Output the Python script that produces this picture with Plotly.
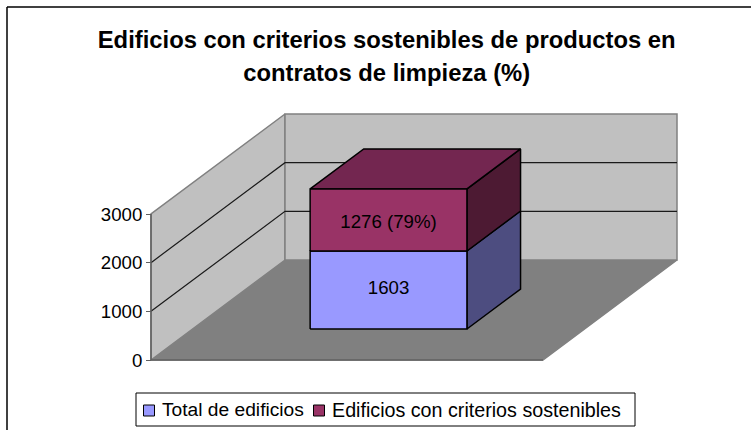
import plotly.graph_objects as go

W, H = 751, 430
FONT = "Liberation Sans"

# Data
title_lines = ["Edificios con criterios sostenibles de productos en", "contratos de limpieza (%)"]
series_names = ["Total de edificios", "Edificios con criterios sostenibles"]
series_values = [1603, 1276]
data_labels = ["1603", "1276 (79%)"]
tick_values = [0, 1000, 2000, 3000]
tick_labels = ["0", "1000", "2000", "3000"]
value_max = 3000

# Colours
front_colors = ["#9999FF", "#993366"]
side_colors = ["#4D4D80", "#4D1A33"]
top_colors = ["#737399", "#732650"]
WALL, FLOOR, EDGE = "#C0C0C0", "#808080", "#808080"

# Oblique projection set-up (pixels of the plot box)
X0_PX, Y0_PX = 151, 360      # front-left corner of the floor
FLOOR_W_PX = 392             # floor width
DX_PX, DY_PX = 134, 100      # shift of the full depth
K = 146 / value_max          # pixels per value unit
BAR_L, BAR_R = 0.30, 0.70    # bar extent across the category
BAR_F, BAR_B = 0.31, 0.71    # bar extent in depth
LABEL_SHIFT_PX = [1, -3]


def proj(u, v, d):
    """Category position u, value v, depth d -> axis coordinates."""
    return u + d * DX_PX / FLOOR_W_PX, v + d * DY_PX / K


def poly(points, fill, line, width=1.0, name=None):
    xs, ys = zip(*[proj(*p) for p in points + points[:1]])
    return go.Scatter(x=xs, y=ys, mode="lines", fill="toself", fillcolor=fill,
                      line=dict(color=line, width=width), hoverinfo="skip",
                      showlegend=False, name=name)


def line(points, color, width=1.0):
    xs, ys = zip(*[proj(*p) for p in points])
    return go.Scatter(x=xs, y=ys, mode="lines", line=dict(color=color, width=width),
                      hoverinfo="skip", showlegend=False)


fig = go.Figure()

# Walls and floor
fig.add_trace(poly([(0, 0, 0), (1, 0, 0), (1, 0, 1), (0, 0, 1)], FLOOR, EDGE, 1.5))
fig.add_trace(poly([(0, 0, 0), (0, 0, 1), (0, value_max, 1), (0, value_max, 0)], WALL, EDGE, 1.5))
fig.add_trace(poly([(0, 0, 1), (1, 0, 1), (1, value_max, 1), (0, value_max, 1)], WALL, EDGE, 1.5))

# Gridlines
for v in tick_values[1:-1]:
    fig.add_trace(line([(0, v, 0), (0, v, 1), (1, v, 1)], "#1a1a1a", 1.2))

# Axes lines
fig.add_trace(line([(0, 0, 0), (0, value_max, 0)], "#606060", 1.5))
fig.add_trace(line([(0, 0, 0), (1, 0, 0)], "#606060", 1.5))

# Stacked bar
base = 0
for i, val in enumerate(series_values):
    top = base + val
    fig.add_trace(poly([(BAR_R, base, BAR_F), (BAR_R, base, BAR_B), (BAR_R, top, BAR_B), (BAR_R, top, BAR_F)],
                       side_colors[i], "black", 1.5))
    if i == len(series_values) - 1:
        fig.add_trace(poly([(BAR_L, top, BAR_F), (BAR_R, top, BAR_F), (BAR_R, top, BAR_B), (BAR_L, top, BAR_B)],
                           top_colors[i], "black", 1.5))
    fig.add_trace(poly([(BAR_L, base, BAR_F), (BAR_R, base, BAR_F), (BAR_R, top, BAR_F), (BAR_L, top, BAR_F)],
                       front_colors[i], "black", 1.5, name=series_names[i]))
    lx, ly = proj((BAR_L + BAR_R) / 2, base + val / 2, BAR_F)
    fig.add_trace(go.Scatter(x=[lx], y=[ly + LABEL_SHIFT_PX[i] / K], mode="text", text=[data_labels[i]],
                             textposition="middle center", cliponaxis=False,
                             textfont=dict(family=FONT, size=18.67, color="black"),
                             hoverinfo="skip", showlegend=False))
    base = top

shapes = []
annotations = []


def px(x):
    return x / W


def py(y):
    return 1 - y / H


# Chart frame (runs off the right and bottom edges)
shapes.append(dict(type="line", xref="paper", yref="paper", x0=px(7), x1=px(W), y0=py(7), y1=py(7),
                   line=dict(color="black", width=1.5)))
shapes.append(dict(type="line", xref="paper", yref="paper", x0=px(7), x1=px(7), y0=py(7), y1=py(H),
                   line=dict(color="black", width=1.5)))

# Legend box
shapes.append(dict(type="rect", xref="paper", yref="paper", x0=px(136), x1=px(635), y0=py(393), y1=py(426),
                   line=dict(color="black", width=1), fillcolor="white"))
swatch_x = [143.5, 313.5]
text_x = [161, 331]
legend_sizes = [19.2, 19.7]
for sx, tx, name, col, fs in zip(swatch_x, text_x, series_names, front_colors, legend_sizes):
    shapes.append(dict(type="rect", xref="paper", yref="paper", x0=px(sx), x1=px(sx + 11), y0=py(405), y1=py(416),
                       line=dict(color="black", width=1), fillcolor=col))
    annotations.append(dict(text=name, xref="paper", yref="paper", x=px(tx), y=py(409.5), xanchor="left",
                            yanchor="middle", showarrow=False, xshift=-1,
                            font=dict(family=FONT, size=fs, color="black")))

span = '<span style="font-size:23.8px">%s</span>'
title_text = "<br>".join(span % t for t in title_lines)

fig.update_layout(
    width=W, height=H, autosize=False,
    margin=dict(l=0, r=0, t=0, b=0),
    paper_bgcolor="white", plot_bgcolor="white",
    showlegend=False,
    title=dict(text="<b>" + title_text + "</b>", x=386.7 / W, xanchor="center", y=1 - 47.5 / H, yanchor="top",
               font=dict(family=FONT, size=25.5, color="black")),
    xaxis=dict(visible=False, domain=[0, 1],
               range=[-X0_PX / FLOOR_W_PX, (W - X0_PX) / FLOOR_W_PX], fixedrange=True),
    yaxis=dict(domain=[0, 1], range=[-(H - Y0_PX) / K, Y0_PX / K], anchor="free", position=X0_PX / W,
               tickmode="array", tickvals=tick_values, ticktext=tick_labels, ticks="outside", ticklen=5,
               tickwidth=1, tickcolor="#606060", showgrid=False, zeroline=False, showline=False,
               tickfont=dict(family=FONT, size=18.67, color="black"), fixedrange=True),
    shapes=shapes, annotations=annotations,
)

fig.write_html("out.html", config={"displayModeBar": False},
               post_script="document.body.style.margin='0';document.documentElement.style.overflow='hidden';")
